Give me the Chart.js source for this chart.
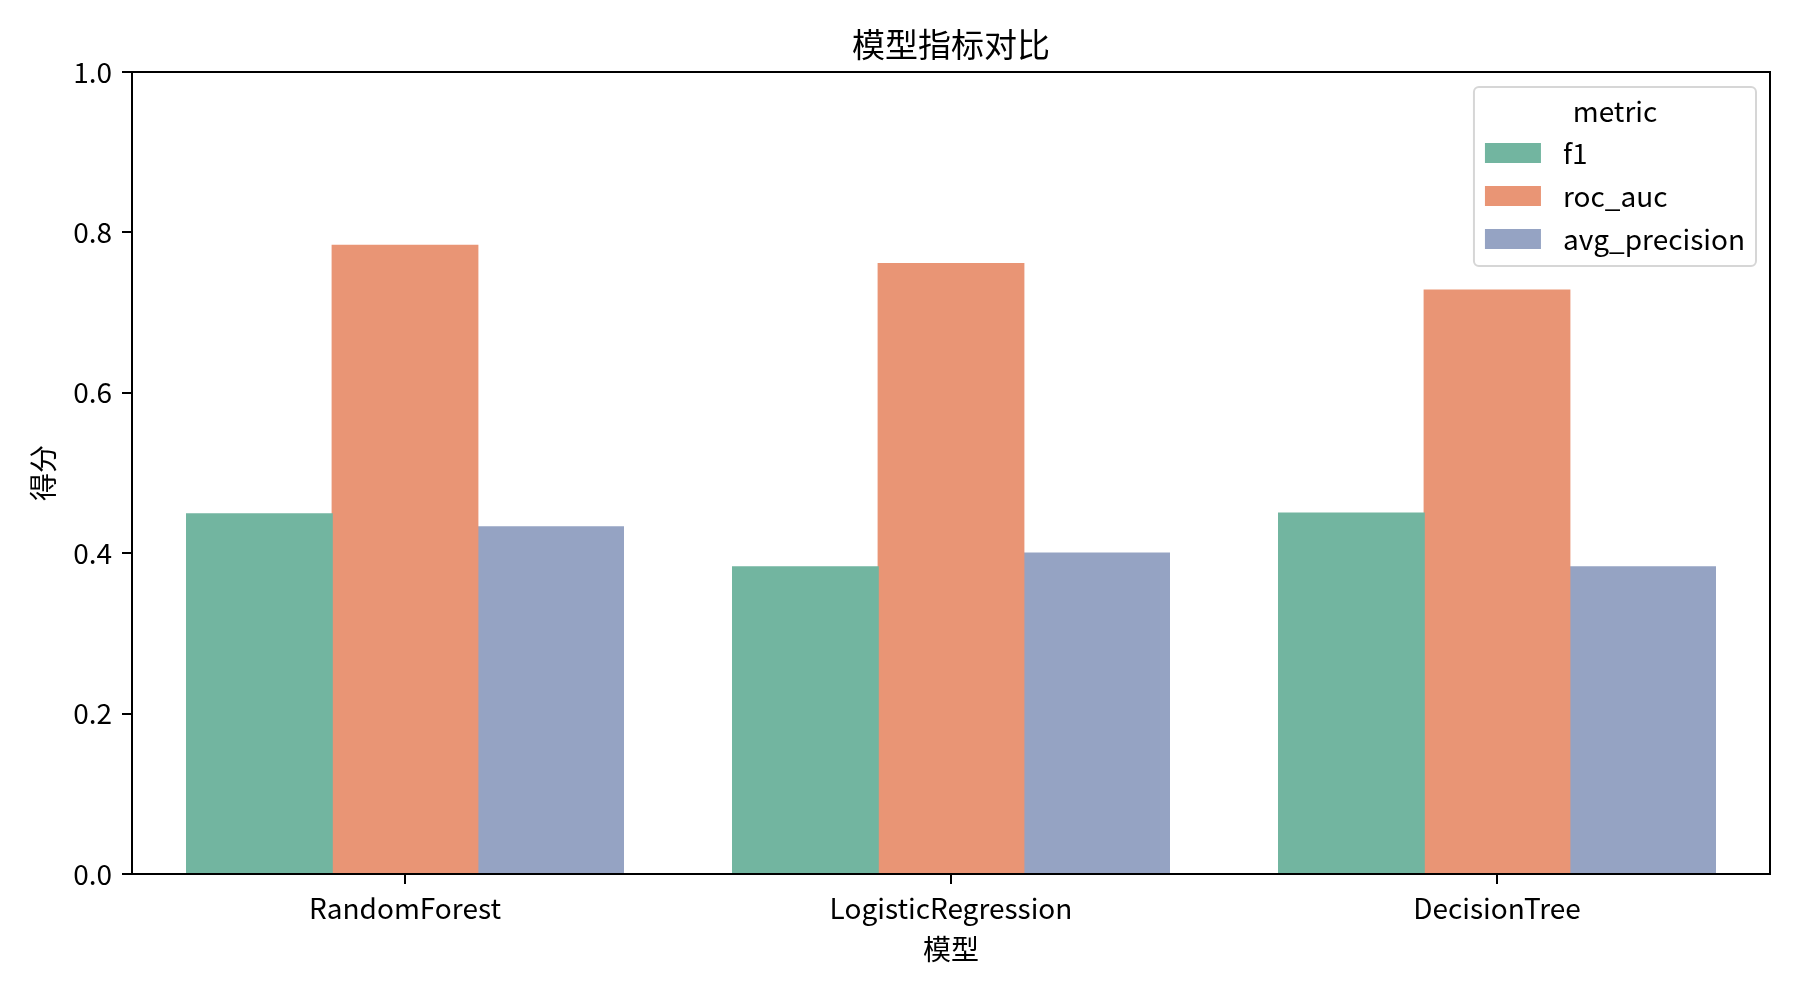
<!DOCTYPE html>
<html>
<head>
<meta charset="utf-8">
<script src="https://cdn.jsdelivr.net/npm/chart.js@4.4.0/dist/chart.umd.min.js"></script>
<style>
  html, body { margin: 0; padding: 0; background: #fff; }
  #wrap { width: 1800px; height: 1000px; }
</style>
</head>
<body>
<div id="wrap"><canvas id="myChart" width="1800" height="1000"></canvas></div>
<script>
// categories and series
const models = ['RandomForest', 'LogisticRegression', 'DecisionTree'];
const metrics = ['f1', 'roc_auc', 'avg_precision'];
const f1 = [0.449, 0.383, 0.450];
const rocAuc = [0.784, 0.761, 0.728];
const avgPrecision = [0.433, 0.400, 0.383];
const yTicks = [0.0, 0.2, 0.4, 0.6, 0.8, 1.0];

// seaborn Set2, desaturated
const colors = ['#72b5a0', '#e99575', '#95a3c3'];

const FONT = '"Noto Sans CJK SC", "Noto Sans", sans-serif';
const chartTitle = '模型指标对比';

// title centred over the plot area, like matplotlib
const titlePlugin = {
  id: 'axTitle',
  afterDraw(chart) {
    const { ctx, chartArea: a } = chart;
    ctx.save();
    ctx.font = '33px ' + FONT;
    ctx.fillStyle = '#000';
    ctx.textAlign = 'center';
    ctx.textBaseline = 'middle';
    ctx.fillText(chartTitle, (a.left + a.right) / 2, 44);
    ctx.restore();
  },
};

// frame around the plot area (all four spines)
const framePlugin = {
  id: 'frame',
  afterDatasetsDraw(chart) {
    const { ctx, chartArea: a } = chart;
    ctx.save();
    ctx.strokeStyle = '#000';
    ctx.lineWidth = 2;
    ctx.strokeRect(a.left, a.top, a.right - a.left, a.bottom - a.top);
    ctx.restore();
  },
};

// matplotlib-like legend box in the upper right corner
const legendBox = {
  id: 'legendBox',
  afterDraw(chart) {
    const { ctx, chartArea: a } = chart;
    const ds = chart.data.datasets;
    ctx.save();
    ctx.font = '28px ' + FONT;
    let textW = ctx.measureText('metric').width;
    ds.forEach((d) => { textW = Math.max(textW, ctx.measureText(d.label).width); });
    const pad = 11, handle = 56, gap = 22, rowH = 43;
    const w = pad + handle + gap + textW + pad;
    const h = 179;
    const x = a.right - 14 - w;
    const y = a.top + 15;

    ctx.beginPath();
    ctx.roundRect(x, y, w, h, 5);
    ctx.fillStyle = 'rgba(255,255,255,0.8)';
    ctx.fill();
    ctx.strokeStyle = '#d6d6d6';
    ctx.lineWidth = 2;
    ctx.stroke();

    ctx.fillStyle = '#000';
    ctx.textBaseline = 'middle';
    ctx.textAlign = 'center';
    ctx.fillText('metric', x + w / 2, y + 24);

    ctx.textAlign = 'left';
    ds.forEach((d, i) => {
      const cy = y + 66 + i * rowH;
      ctx.fillStyle = d.backgroundColor;
      ctx.fillRect(x + pad, cy - 10, handle, 20);
      ctx.fillStyle = '#000';
      ctx.fillText(d.label, x + pad + handle + gap, cy);
    });
    ctx.restore();
  },
};

const ctx = document.getElementById('myChart').getContext('2d');
const myChart = new Chart(ctx, {
  type: 'bar',
  data: {
    labels: models,
    datasets: [
      { label: metrics[0], data: f1, backgroundColor: colors[0] },
      { label: metrics[1], data: rocAuc, backgroundColor: colors[1] },
      { label: metrics[2], data: avgPrecision, backgroundColor: colors[2] },
    ],
  },
  options: {
    responsive: false,
    animation: false,
    devicePixelRatio: 1,
    layout: { padding: { left: 0, right: 30, top: 72, bottom: 0 } },
    datasets: {
      bar: { categoryPercentage: 0.8, barPercentage: 1.0, borderWidth: 0, inflateAmount: 0.6 },
    },
    plugins: {
      legend: { display: false },
      tooltip: { enabled: false },
      title: { display: false },
    },
    scales: {
      x: {
        offset: true,
        grid: {
          display: true,
          offset: false,
          drawOnChartArea: false,
          drawTicks: true,
          tickLength: 10,
          tickColor: '#000',
          lineWidth: 2,
        },
        border: { display: false },
        ticks: {
          color: '#000',
          padding: 8,
          font: { family: FONT, size: 28 },
        },
        title: {
          display: true,
          text: '模型',
          color: '#000',
          font: { family: FONT, size: 28, lineHeight: 1.2 },
          padding: { top: 0, bottom: 34 },
        },
        afterFit(scale) { scale.height = 126; },
      },
      y: {
        min: 0,
        max: 1,
        afterBuildTicks(scale) { scale.ticks = yTicks.map((v) => ({ value: v })); },
        grid: {
          display: true,
          drawOnChartArea: false,
          drawTicks: true,
          tickLength: 10,
          tickColor: '#000',
          lineWidth: 2,
        },
        border: { display: false },
        ticks: {
          color: '#000',
          padding: 10,
          font: { family: FONT, size: 28 },
          callback: (v) => Number(v).toFixed(1),
        },
        title: {
          display: true,
          text: '得分',
          color: '#000',
          font: { family: FONT, size: 28, lineHeight: 1.2 },
          padding: { top: 27, bottom: 0 },
        },
        afterFit(scale) { scale.width = 132; },
      },
    },
  },
  plugins: [framePlugin, legendBox, titlePlugin],
});
</script>
</body>
</html>
